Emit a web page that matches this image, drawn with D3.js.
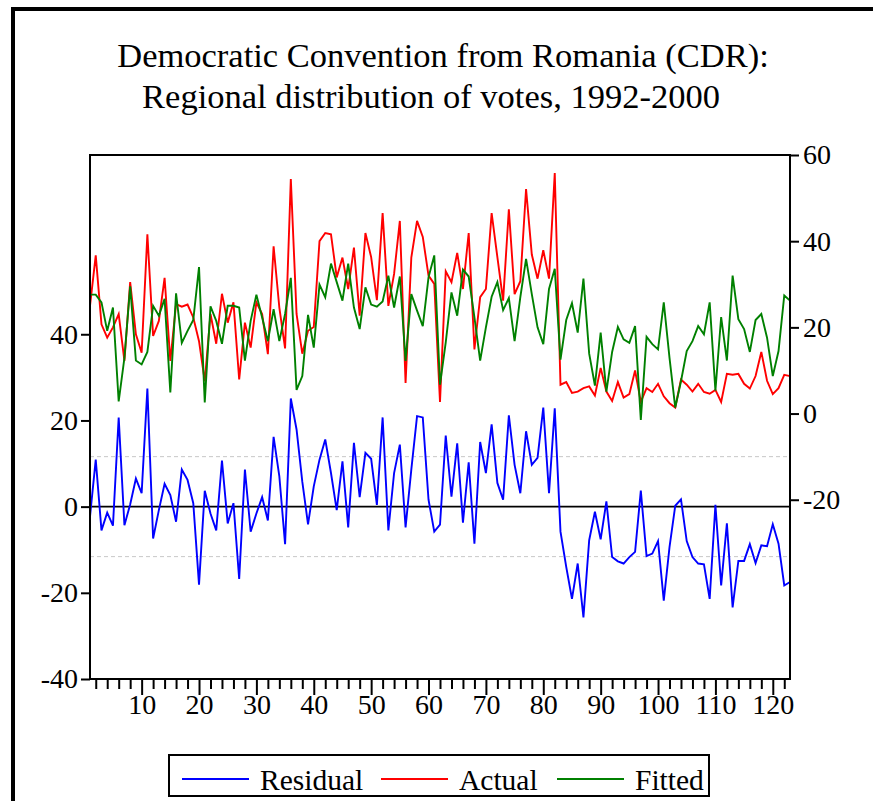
<!DOCTYPE html>
<html>
<head>
<meta charset="utf-8">
<script src="https://cdn.jsdelivr.net/npm/d3@7"></script>
<style>
  body { margin: 0; background: #fff; }
  text { font-family: "Liberation Serif", "Times New Roman", serif; fill: #000; }
</style>
</head>
<body>
<div id="chart"></div>
<script>
// observations 1..123 (regions x elections)
var nObs = 123;

var residual = [
  -2.3, 10.9, -5.5, -1.4, -4.4, 20.7, -4.3, 0.5, 6.5, 3.1,
  27.4, -7.4, -0.8, 5.3, 2.7, -3.5, 8.6, 6.2, 0.8, -18.1,
  3.7, -1.6, -5.5, 10.7, -3.9, 0.8, -16.8, 8.6, -5.8, -1.6,
  2.2, -3.2, 16.2, 7.0, -8.7, 25.1, 17.9, 5.8, -4.1, 4.7,
  10.9, 15.6, 7.8, -0.8, 10.5, -4.8, 14.8, 2.2, 12.5, 11.1,
  0.4, 20.7, -5.5, 7.8, 14.4, -4.8, 8.6, 21.0, 20.7, 1.6,
  -5.8, -4.2, 16.5, 2.3, 14.7, -3.7, 10.3, -8.6, 15.0, 7.8,
  19.1, 5.5, 1.6, 21.2, 9.7, 3.1, 17.5, 9.7, 11.3, 23.0,
  3.1, 22.8, -5.8, -14.0, -21.4, -13.2, -25.7, -7.8, -1.2, -7.6,
  1.2, -11.7, -12.7, -13.2, -11.7, -10.5, 3.7, -11.5, -10.9, -8.0,
  -21.8, -9.4, 0.2, 1.7, -8.0, -11.7, -13.2, -13.4, -21.4, 0.4,
  -18.3, -3.9, -23.4, -12.6, -12.6, -8.7, -13.1, -9.0, -9.2, -4.1,
  -8.6, -18.3, -17.5
];

var actual = [
  25.0, 36.7, 20.7, 17.6, 20.0, 23.1, 12.2, 30.5, 18.4, 14.1,
  41.6, 18.0, 21.5, 31.5, 12.2, 25.4, 24.8, 25.3, 22.3, 16.8,
  7.5, 23.1, 16.2, 27.8, 21.1, 25.8, 7.9, 21.1, 15.3, 25.8,
  23.1, 13.8, 38.8, 24.6, 15.1, 54.4, 23.1, 13.9, 19.2, 20.1,
  40.0, 41.9, 41.6, 31.6, 36.2, 28.9, 38.5, 22.7, 41.9, 36.3,
  26.3, 46.5, 25.0, 32.4, 44.7, 7.1, 36.2, 44.7, 41.0, 32.0,
  30.1, 2.7, 33.0, 30.5, 37.3, 28.9, 41.9, 14.9, 27.0, 28.9,
  46.5, 36.3, 26.2, 47.4, 27.7, 30.7, 52.1, 36.9, 31.3, 37.9,
  31.3, 55.8, 6.7, 7.3, 4.8, 5.1, 5.9, 6.3, 4.2, 10.6,
  5.1, 2.9, 7.3, 3.7, 4.5, 10.0, 2.7, 5.9, 5.0, 6.9,
  4.0, 2.4, 1.4, 7.9, 6.7, 5.1, 6.9, 5.0, 4.6, 5.5,
  2.7, 9.2, 9.0, 9.2, 6.9, 5.8, 8.7, 14.3, 7.6, 4.5,
  5.9, 9.0, 8.7
];

var fitted = [
  27.6, 27.6, 25.8, 19.2, 24.6, 2.8, 12.9, 29.5, 12.3, 11.4,
  14.3, 25.0, 22.7, 26.6, 4.9, 27.9, 16.4, 19.2, 21.7, 34.0,
  2.6, 24.9, 21.5, 16.2, 25.0, 25.0, 24.6, 12.3, 21.5, 27.6,
  22.3, 16.8, 24.2, 16.8, 23.1, 31.5, 5.5, 8.7, 22.9, 15.3,
  29.9, 27.0, 34.8, 30.5, 26.2, 34.8, 24.6, 19.6, 29.3, 25.3,
  24.8, 26.0, 32.0, 24.6, 31.8, 12.2, 27.7, 23.9, 20.3, 31.6,
  36.7, 6.7, 16.5, 28.1, 22.7, 33.4, 31.8, 22.3, 12.3, 20.0,
  27.1, 30.5, 24.0, 26.8, 16.8, 27.0, 35.9, 27.7, 20.0, 16.1,
  28.9, 33.6, 12.5, 21.7, 25.6, 18.8, 31.3, 13.9, 6.5, 18.8,
  5.1, 14.3, 20.1, 17.2, 16.4, 20.3, -1.5, 17.8, 16.1, 14.9,
  25.8, 12.9, 1.4, 7.5, 14.5, 16.8, 20.3, 18.4, 25.8, 5.3,
  22.4, 12.3, 32.0, 21.9, 19.6, 14.3, 21.7, 23.1, 17.6, 8.7,
  14.5, 27.4, 26.2
];

var seRes = 11.6; // +/- 1 S.E. band
var xTicks = [10, 20, 30, 40, 50, 60, 70, 80, 90, 100, 110, 120];
var leftTicks = [-40, -20, 0, 20, 40];
var rightTicks = [-20, 0, 20, 40, 60];
var titleLines = ["Democratic Convention from Romania (CDR):",
                  "Regional distribution of votes, 1992-2000"];
var legendNames = ["Residual", "Actual", "Fitted"];
var colors = ["#0000ff", "#ff0000", "#008000"];

var W = 873, H = 801;
var plot = {left: 90, right: 790, top: 155, bottom: 679};

var svg = d3.select("#chart").append("svg")
  .attr("width", W)
  .attr("height", H);

svg.append("rect").attr("width", W).attr("height", H).attr("fill", "#fff");

// outer frame (only left and top visible)
svg.append("line").attr("x1", 13).attr("x2", 13).attr("y1", 9).attr("y2", H)
  .attr("stroke", "#000").attr("stroke-width", 4);
svg.append("line").attr("x1", 11).attr("x2", W).attr("y1", 9).attr("y2", 9)
  .attr("stroke", "#000").attr("stroke-width", 4);

// title
svg.selectAll(".title")
  .data(titleLines)
  .enter().append("text")
  .attr("x", function(d, i) { return i == 0 ? 443 : 431; })
  .attr("y", function(d, i) { return 67 + i * 41; })
  .attr("text-anchor", "middle")
  .style("font-size", "34.5px")
  .text(function(d) { return d; });

// scales
var x = d3.scaleLinear().domain([1, nObs]).range([plot.left, plot.right]);
var yL = d3.scaleLinear().domain([-40, 81.6]).range([plot.bottom, plot.top]);
var yR = d3.scaleLinear().domain([-61.6, 60]).range([plot.bottom, plot.top]);

// S.E. band and zero line
svg.selectAll(".se")
  .data([seRes, -seRes])
  .enter().append("line")
  .attr("x1", plot.left).attr("x2", plot.right)
  .attr("y1", function(d) { return yL(d); })
  .attr("y2", function(d) { return yL(d); })
  .attr("stroke", "#c8c8c8")
  .attr("stroke-width", 1)
  .attr("stroke-dasharray", "4,3");

svg.append("line")
  .attr("x1", plot.left).attr("x2", plot.right)
  .attr("y1", yL(0)).attr("y2", yL(0))
  .attr("stroke", "#000").attr("stroke-width", 1.8);

// series
var series = [
  {vals: residual, y: yL},
  {vals: actual, y: yR},
  {vals: fitted, y: yR}
];

series.forEach(function(s, k) {
  var line = d3.line()
    .x(function(d, i) { return x(i + 1); })
    .y(function(d) { return s.y(d); });
  svg.append("path")
    .datum(s.vals)
    .attr("d", line)
    .attr("fill", "none")
    .attr("stroke", colors[k])
    .attr("stroke-width", 1.9)
    .attr("stroke-linejoin", "miter");
});

// plot frame
svg.append("rect")
  .attr("x", plot.left).attr("y", plot.top)
  .attr("width", plot.right - plot.left)
  .attr("height", plot.bottom - plot.top)
  .attr("fill", "none")
  .attr("stroke", "#000")
  .attr("stroke-width", 2);

// left axis
var gL = svg.append("g").attr("transform", "translate(" + plot.left + ",0)")
  .call(d3.axisLeft(yL).tickValues(leftTicks).tickSize(9).tickPadding(3)
    .tickFormat(function(d) { return String(d); }));

// right axis
var gR = svg.append("g").attr("transform", "translate(" + plot.right + ",0)")
  .call(d3.axisRight(yR).tickValues(rightTicks).tickSize(9).tickPadding(4)
    .tickFormat(function(d) { return String(d); }));

// bottom axis: minor every 2 obs, labelled every 10
var minor = d3.range(2, nObs + 1, 2).filter(function(d) { return d % 10 != 0; });
svg.append("g").attr("transform", "translate(0," + plot.bottom + ")")
  .call(d3.axisBottom(x).tickValues(minor).tickSize(10).tickFormat(""));
var gB = svg.append("g").attr("transform", "translate(0," + plot.bottom + ")")
  .call(d3.axisBottom(x).tickValues(xTicks).tickSize(16).tickPadding(-1)
    .tickFormat(function(d) { return String(d); }));

[gL, gR, gB].forEach(function(g) {
  g.select(".domain").remove();
  g.selectAll("text").style("font-size", "28px")
    .style("font-family", "'Liberation Serif', serif");
});
svg.selectAll(".tick line").attr("stroke", "#000").attr("stroke-width", 2);
svg.selectAll("g .domain").remove();

// legend
var leg = svg.append("g");
leg.append("rect")
  .attr("x", 169).attr("y", 755).attr("width", 540).attr("height", 41)
  .attr("fill", "#fff").attr("stroke", "#000").attr("stroke-width", 2);

var legX = [182, 381, 557];
legendNames.forEach(function(name, i) {
  leg.append("line")
    .attr("x1", legX[i]).attr("x2", legX[i] + 67)
    .attr("y1", 779).attr("y2", 779)
    .attr("stroke", colors[i]).attr("stroke-width", 1.9);
  leg.append("text")
    .attr("x", legX[i] + 78).attr("y", 790)
    .style("font-size", "29.5px")
    .text(name);
});
</script>
</body>
</html>
